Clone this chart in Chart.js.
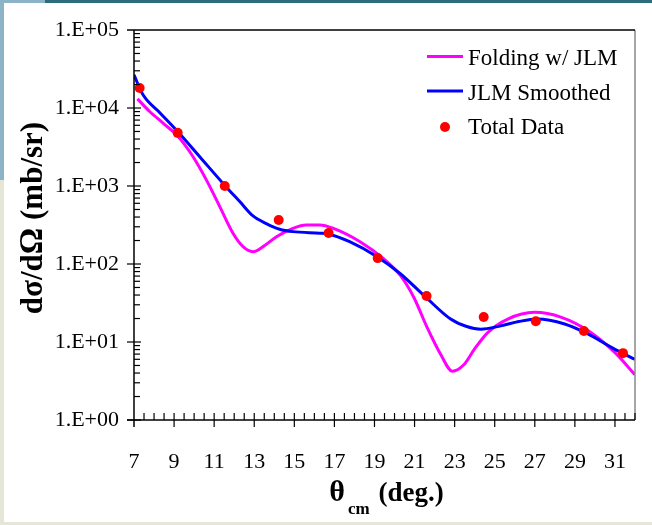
<!DOCTYPE html>
<html>
<head>
<meta charset="utf-8">
<script src="https://cdn.jsdelivr.net/npm/chart.js@4.4.1/dist/chart.umd.min.js"></script>
<style>
html, body { margin: 0; padding: 0; background: #e8e8dc; }
canvas { display: block; }
</style>
</head>
<body>
<canvas id="grafica" width="652" height="525"></canvas>
<script>
// Datos medidos (ángulo cm en grados, sección eficaz en mb/sr)
const angulosDatos = [7.28, 9.18, 11.53, 14.22, 16.71, 19.16, 21.6, 24.45, 27.05, 29.45, 31.4];
const secDatos = [18000, 4800, 1000, 367, 250, 119, 38.8, 20.9, 18.5, 13.8, 7.2];

// Cálculo JLM suavizado
const angulosSuav = [7.0, 7.45, 8.3, 9.18, 10.3, 11.51, 12.3, 12.94, 13.6, 14.27, 14.93, 16.27, 16.69,
    17.76, 19.15, 20.29, 21.6, 22.8, 23.6, 24.3, 25.3, 26.2, 27.12, 28.49, 29.67, 31.0, 32.0];
const secSuav = [26500, 14760, 8650, 4990, 2340, 1033, 622, 413, 330, 279, 260, 248, 243,
    193, 123, 75, 36.7, 19.7, 15.8, 14.6, 16.1, 18.3, 19.7, 17, 12.6, 8.05, 6.0];

// Folding con JLM
const angulosFold = [7.17, 7.78, 8.45, 9.2, 9.94, 10.61, 11.28, 11.94, 12.44, 12.94, 13.44, 14.11, 14.93,
    15.6, 16.27, 16.95, 18.28, 19.45, 20.29, 20.96, 21.63, 22.3, 22.89, 23.47, 23.98, 24.65, 25.65,
    26.99, 28.33, 29.67, 31.0, 32.0];
const secFold = [13100, 9020, 6400, 4300, 2385, 1197, 544, 248, 167, 144, 167, 224, 287,
    317, 317, 286, 193, 117, 71.4, 37.5, 15.3, 6.95, 4.23, 5.15, 8.05, 13.2, 19.7,
    24, 20.7, 13.9, 7.3, 3.8];

const ticksX = [7, 9, 11, 13, 15, 17, 19, 21, 23, 25, 27, 29, 31];
const ticksY = [1, 10, 100, 1000, 10000, 100000];

const FUENTE = 'Liberation Serif';

function puntos(xs, ys) {
    return xs.map((x, i) => ({ x: x, y: ys[i] }));
}

function linea(ctx, x1, y1, x2, y2) {
    ctx.beginPath();
    ctx.moveTo(x1, y1);
    ctx.lineTo(x2, y2);
    ctx.stroke();
}

// Fondo de la diapositiva
const fondo = {
    id: 'fondo',
    beforeDraw(chart) {
        const ctx = chart.ctx;
        ctx.save();
        ctx.fillStyle = '#e6e6d6';
        ctx.fillRect(0, 0, 652, 525);
        ctx.fillStyle = '#8db3c6';
        ctx.fillRect(0, 0, 45, 180);
        ctx.fillStyle = '#2f6c7b';
        ctx.fillRect(45, 0, 607, 3);
        ctx.fillStyle = '#ffffff';
        ctx.fillRect(4, 3, 648, 519);
        ctx.restore();
    }
};

// Marco, ejes y marcas
const marcoEjes = {
    id: 'marcoEjes',
    afterDraw(chart) {
        const { ctx, chartArea: a, scales } = chart;
        ctx.save();
        ctx.lineWidth = 1.5;
        ctx.strokeStyle = '#888888';
        linea(ctx, a.right, a.top, a.right, a.bottom);
        ctx.strokeStyle = '#000000';
        linea(ctx, a.left - 7, a.top, a.right, a.top);
        linea(ctx, a.left, a.top, a.left, a.bottom + 7);
        linea(ctx, a.left - 7, a.bottom, a.right, a.bottom);

        ctx.lineWidth = 1.2;
        for (let e = 0; e < 5; e++) {
            for (let m = 1; m < 10; m++) {
                const y = scales.y.getPixelForValue(m * Math.pow(10, e));
                if (m === 1) linea(ctx, a.left - 7, y, a.left + 7, y);
                else linea(ctx, a.left, y, a.left + 6, y);
            }
        }
        for (let v = 7.5; v <= 32; v += 0.5) {
            const x = scales.x.getPixelForValue(v);
            if ((v - 7) % 2 === 0) linea(ctx, x, a.bottom - 7, x, a.bottom + 7);
            else linea(ctx, x, a.bottom - 7, x, a.bottom);
        }
        ctx.restore();
    }
};

// Títulos de los ejes
const titulos = {
    id: 'titulos',
    afterDraw(chart) {
        const { ctx, chartArea: a } = chart;
        ctx.save();
        ctx.fillStyle = '#000000';
        ctx.textBaseline = 'alphabetic';

        // eje x: θ con subíndice cm
        const fTheta = 'bold 30px ' + FUENTE;
        const fSub = 'bold 17px ' + FUENTE;
        const fResto = 'bold 27px ' + FUENTE;
        ctx.font = fTheta; const wT = ctx.measureText('θ').width + 3;
        ctx.font = fSub; const wS = ctx.measureText('cm').width + 2;
        ctx.font = fResto; const wR = ctx.measureText(' (deg.)').width;
        let x = (a.left + a.right) / 2 + 2 - (wT + wS + wR) / 2;
        ctx.font = fTheta; ctx.fillText('θ', x, 501); x += wT;
        ctx.font = fSub; ctx.fillText('cm', x, 514); x += wS;
        ctx.font = fResto; ctx.fillText(' (deg.)', x, 501);

        // eje y
        const piezas = [
            ['d', 'bold 31px ' + FUENTE],
            ['σ', 'bold 31px ' + FUENTE],
            ['/d', 'bold 31px ' + FUENTE],
            ['Ω', 'bold 33px ' + FUENTE],
            [' (mb/sr)', 'bold 31px ' + FUENTE]
        ];
        let total = 0;
        piezas.forEach(p => { ctx.font = p[1]; total += ctx.measureText(p[0]).width; });
        ctx.translate(42, (a.top + a.bottom) / 2 - 7);
        ctx.rotate(-Math.PI / 2);
        let px = -total / 2;
        piezas.forEach(p => {
            ctx.font = p[1];
            ctx.fillText(p[0], px, 0);
            px += ctx.measureText(p[0]).width;
        });
        ctx.restore();
    }
};

// Leyenda dentro del área de la gráfica
const leyenda = {
    id: 'leyenda',
    afterDraw(chart) {
        const ctx = chart.ctx;
        const ds = chart.data.datasets;
        ctx.save();
        ctx.font = '23px ' + FUENTE;
        ctx.fillStyle = '#000000';
        ctx.textBaseline = 'middle';
        const filas = [59, 93.5, 128];
        ds.forEach((d, i) => {
            const y = filas[i];
            if (d.showLine) {
                ctx.strokeStyle = d.borderColor;
                ctx.lineWidth = 3;
                linea(ctx, 427, y - 2.5, 463, y - 2.5);
            } else {
                ctx.fillStyle = d.backgroundColor;
                ctx.beginPath();
                ctx.arc(445, y - 1, 5, 0, Math.PI * 2);
                ctx.fill();
                ctx.fillStyle = '#000000';
            }
            ctx.fillText(d.label, 468, y);
        });
        ctx.restore();
    }
};

new Chart(document.getElementById('grafica'), {
    type: 'scatter',
    data: {
        datasets: [
            {
                label: 'Folding w/ JLM',
                data: puntos(angulosFold, secFold),
                showLine: true,
                borderColor: '#ff00ff',
                backgroundColor: '#ff00ff',
                borderWidth: 3,
                pointRadius: 0,
                cubicInterpolationMode: 'monotone',
                order: 2
            },
            {
                label: 'JLM Smoothed',
                data: puntos(angulosSuav, secSuav),
                showLine: true,
                borderColor: '#0000ff',
                backgroundColor: '#0000ff',
                borderWidth: 3,
                pointRadius: 0,
                cubicInterpolationMode: 'monotone',
                order: 1
            },
            {
                label: 'Total Data',
                data: puntos(angulosDatos, secDatos),
                showLine: false,
                borderColor: '#ff0000',
                backgroundColor: '#ff0000',
                pointRadius: 5,
                pointBorderWidth: 0,
                order: 0
            }
        ]
    },
    options: {
        responsive: false,
        devicePixelRatio: 1,
        animation: false,
        events: [],
        layout: { padding: { left: 0, top: 30, right: 17, bottom: 0 } },
        plugins: {
            legend: { display: false },
            tooltip: { enabled: false }
        },
        scales: {
            x: {
                type: 'linear',
                min: 7,
                max: 32,
                grid: { display: false },
                border: { display: false },
                afterBuildTicks: s => { s.ticks = ticksX.map(v => ({ value: v })); },
                afterFit: s => { s.height = 105; },
                ticks: {
                    color: '#000000',
                    padding: 21,
                    maxRotation: 0,
                    autoSkip: false,
                    font: { family: FUENTE, size: 22 }
                }
            },
            y: {
                type: 'logarithmic',
                min: 1,
                max: 100000,
                grid: { display: false },
                border: { display: false },
                afterBuildTicks: s => { s.ticks = ticksY.map(v => ({ value: v, major: true })); },
                afterFit: s => { s.width = 134; },
                ticks: {
                    color: '#000000',
                    padding: 7,
                    autoSkip: false,
                    font: { family: FUENTE, size: 22 },
                    callback: v => '1.E+' + String(Math.round(Math.log10(v))).padStart(2, '0')
                }
            }
        }
    },
    plugins: [fondo, marcoEjes, titulos, leyenda]
});
</script>
</body>
</html>
